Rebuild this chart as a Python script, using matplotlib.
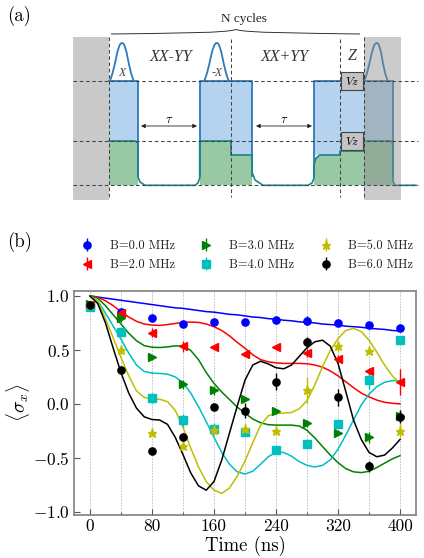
import numpy as np
import matplotlib
matplotlib.use("Agg")
import matplotlib.pyplot as plt
from matplotlib.path import Path
from matplotlib.patches import PathPatch, Rectangle

plt.rcParams['font.family'] = ['cmr10', 'DejaVu Serif']
plt.rcParams['mathtext.fontset'] = 'cm'
plt.rcParams['axes.unicode_minus'] = False

# measured points
t_points = [0, 40, 80, 120, 160, 200, 240, 280, 320, 360, 400]
b0_points = [0.92, 0.85, 0.80, 0.74, 0.755, 0.755, 0.78, 0.77, 0.75, 0.735, 0.70]
b2_points = [0.92, 0.84, 0.66, 0.535, 0.525, 0.465, 0.525, 0.47, 0.42, 0.30, 0.20]
b3_points = [0.93, 0.80, 0.43, 0.18, 0.125, 0.045, -0.07, -0.18, -0.27, -0.31, -0.11]
b4_points = [0.90, 0.665, 0.055, -0.15, -0.23, -0.26, -0.43, -0.37, -0.19, 0.22, 0.59]
b5_points = [0.92, 0.495, -0.27, -0.39, -0.24, -0.23, -0.255, 0.13, 0.535, 0.49, -0.25]
b6_points = [0.92, 0.31, -0.44, -0.31, -0.03, -0.065, 0.205, 0.57, 0.06, -0.58, -0.12]

b0_err = [0.02, 0.02, 0.01, 0.02, 0.02, 0.01, 0.02, 0.04, 0.02, 0.02, 0.02]
b2_err = [0.02, 0.02, 0.04, 0.05, 0.02, 0.02, 0.02, 0.04, 0.03, 0.03, 0.12]
b3_err = [0.02, 0.04, 0.02, 0.04, 0.04, 0.02, 0.02, 0.03, 0.02, 0.05, 0.04]
b4_err = [0.02, 0.02, 0.05, 0.06, 0.05, 0.02, 0.02, 0.02, 0.02, 0.08, 0.02]
b5_err = [0.02, 0.02, 0.02, 0.02, 0.04, 0.02, 0.02, 0.12, 0.05, 0.02, 0.07]
b6_err = [0.02, 0.02, 0.02, 0.03, 0.02, 0.07, 0.08, 0.05, 0.08, 0.05, 0.06]

# fitted curves, read every 10 ns
t_curve = list(range(0, 410, 10))
b0_curve = [1.0, 0.99, 0.98, 0.97, 0.96, 0.95, 0.94, 0.93, 0.92, 0.91, 0.90,
            0.89, 0.885, 0.875, 0.865, 0.855, 0.85, 0.84, 0.83, 0.825, 0.815,
            0.805, 0.80, 0.79, 0.785, 0.775, 0.77, 0.76, 0.755, 0.75, 0.74,
            0.735, 0.73, 0.72, 0.715, 0.71, 0.70, 0.695, 0.69, 0.68, 0.675]
b2_curve = [1.0, 0.99, 0.955, 0.91, 0.855, 0.805, 0.765, 0.74, 0.73, 0.727, 0.735,
            0.745, 0.755, 0.758, 0.755, 0.74, 0.715, 0.68, 0.63, 0.57, 0.515,
            0.455, 0.41, 0.39, 0.38, 0.375, 0.375, 0.375, 0.372, 0.36, 0.34,
            0.305, 0.26, 0.205, 0.15, 0.10, 0.065, 0.035, 0.015, 0.005, 0.0]
b3_curve = [1.0, 0.98, 0.91, 0.825, 0.74, 0.655, 0.585, 0.54, 0.525, 0.522, 0.528,
            0.538, 0.535, 0.495, 0.41, 0.29, 0.19, 0.11, 0.04, -0.03, -0.085,
            -0.14, -0.175, -0.193, -0.197, -0.197, -0.197, -0.205, -0.245, -0.315, -0.395,
            -0.475, -0.545, -0.60, -0.63, -0.637, -0.625, -0.59, -0.55, -0.51, -0.48]
b4_curve = [1.0, 0.955, 0.84, 0.72, 0.60, 0.47, 0.36, 0.30, 0.285, 0.282, 0.275,
            0.25, 0.195, 0.10, -0.025, -0.165, -0.31, -0.45, -0.56, -0.63, -0.65,
            -0.625, -0.56, -0.49, -0.45, -0.45, -0.485, -0.535, -0.57, -0.585, -0.57,
            -0.52, -0.42, -0.29, -0.15, -0.01, 0.09, 0.16, 0.20, 0.215, 0.215]
b5_curve = [1.0, 0.95, 0.79, 0.61, 0.43, 0.26, 0.12, 0.06, 0.045, 0.043, 0.02,
            -0.06, -0.215, -0.41, -0.585, -0.72, -0.80, -0.83, -0.78, -0.67, -0.53,
            -0.36, -0.20, -0.11, -0.09, -0.085, -0.08, -0.045, 0.03, 0.175, 0.345,
            0.495, 0.605, 0.68, 0.70, 0.67, 0.59, 0.48, 0.36, 0.26, 0.19]
b6_curve = [1.0, 0.93, 0.75, 0.515, 0.29, 0.10, -0.04, -0.12, -0.145, -0.15, -0.19,
            -0.31, -0.47, -0.64, -0.76, -0.80, -0.72, -0.52, -0.27, -0.02, 0.22,
            0.36, 0.395, 0.37, 0.335, 0.325, 0.36, 0.44, 0.52, 0.575, 0.59,
            0.535, 0.375, 0.115, -0.15, -0.33, -0.45, -0.49, -0.475, -0.41, -0.33]

labels = ["B=0.0 MHz", "B=2.0 MHz", "B=3.0 MHz", "B=4.0 MHz", "B=5.0 MHz", "B=6.0 MHz"]
colors = ["b", "r", "g", "c", "y", "k"]
markers = ["o", "<", ">", "s", "*", "o"]
all_points = [b0_points, b2_points, b3_points, b4_points, b5_points, b6_points]
all_errs = [b0_err, b2_err, b3_err, b4_err, b5_err, b6_err]
all_curves = [b0_curve, b2_curve, b3_curve, b4_curve, b5_curve, b6_curve]

W, H = 424, 558
fig = plt.figure(figsize=(W / 100, H / 100), dpi=100)

# panel (a): schematic in pixel coordinates
sch = fig.add_axes([0, 0, 1, 1])
sch.set_xlim(0, W)
sch.set_ylim(H, 0)
sch.axis("off")

BLUE = "#b5d3ee"
GREEN = "#99c8a5"
LINE_B = "#2b7bbd"
LINE_G = "#17858a"
DASH = "#444444"
top, mid, low = 81.3, 141, 185.3

sch.fill([109, 138, 138, 109], [top, top, mid, mid], color=BLUE, lw=0)
sch.fill([199.7, 252, 252, 231, 231, 199.7], [top, top, 155, 155, mid, mid], color=BLUE, lw=0)
sch.fill([314, 393, 393, 364, 364, 340, 340, 314], [top, top, mid, mid, 151, 151, 155, 155], color=BLUE, lw=0)

sch.fill([109, 136, 138, 138, 109], [mid, mid, 144, low, low], color=GREEN, lw=0)
sch.fill([199.7, 231, 231, 252, 252, 199.7], [mid, mid, 155, 155, low, low], color=GREEN, lw=0)
sch.fill([314, 316, 320, 340, 340, 364, 364, 392, 393, 393, 314],
         [165, 158, 155, 155, 151, 151, mid, mid, 144, low, low], color=GREEN, lw=0)

sch.plot([109, 138, 138], [top, top, 176], color=LINE_B, lw=1.3)
sch.plot([199.7, 199.7, 252, 252], [176, top, top, 176], color=LINE_B, lw=1.3)
sch.plot([314, 314, 393, 393], [176, top, top, 176], color=LINE_B, lw=1.3)

sch.plot([109, 135, 138, 138, 140, 145, 195, 198, 199.7, 199.7, 231, 231, 252, 252, 255, 263,
          308, 312, 314, 314, 316, 320, 340, 340, 364, 364, 391, 393, 393, 395, 416],
         [mid, mid, 143, 177, 182, low, low, 183, 178, mid, mid, 155, 155, 172, 180, low,
          low, 183, 178, 165, 158, 155, 155, 151, 151, mid, mid, 144, 181, low, low],
         color=LINE_G, lw=1.2)

# pulses
for x0, cx, x1 in [(109.6, 122, 134), (204, 216.7, 229), (364, 376.7, 388)]:
    verts = [(x0, top), (x0 + 6, 69), (cx - 5, 43), (cx, 43), (cx + 5, 43), (x1 - 6, 69), (x1, top)]
    codes = [Path.MOVETO] + [Path.CURVE4] * 6
    sch.add_patch(PathPatch(Path(verts, codes), fc="none", ec=LINE_B, lw=1.3))

# gray regions lie on top of the pulses
sch.add_patch(Rectangle((72.7, 36.7), 36.3, 163.3, fc="#c9c9c9", ec="none", zorder=1))
sch.add_patch(Rectangle((364, 36.7), 36.7, 163.3, fc="#8c8c8c", ec="none", alpha=0.45, zorder=3))

for y in [top, mid, low]:
    sch.plot([73, 418], [y, y], color=DASH, lw=0.75, ls=(0, (3.5, 2.5)), zorder=4)
for x, y0 in [(109, 37), (231, 39), (340.3, 39), (363.7, 37)]:
    sch.plot([x, x], [y0, 197], color=DASH, lw=0.75, ls=(0, (3.5, 2.5)), zorder=4)

for y0 in [71.7, 131.7]:
    sch.add_patch(Rectangle((341, y0), 21.7, 18, fc="#c4c4c4", ec="#444444", lw=0.8, zorder=5))
    sch.text(351.8, y0 + 9.2, "$Vz$", ha="center", va="center", fontsize=8.5, zorder=6)

for x0, x1 in [(141, 197), (256, 312)]:
    sch.annotate("", xy=(x0, 126), xytext=(x1, 126),
                 arrowprops=dict(arrowstyle="<|-|>", color="#222222", lw=0.6, mutation_scale=6, shrinkA=0, shrinkB=0))
    sch.text((x0 + x1) / 2, 120, r"$\tau$", ha="center", va="center", fontsize=9)

serif = ["Liberation Serif", "DejaVu Serif"]
sch.text(170.7, 57, "XX-YY", family=serif, style="italic", ha="center", va="center", fontsize=11.5, color="#333333")
sch.text(285, 57, "XX+YY", family=serif, style="italic", ha="center", va="center", fontsize=11.5, color="#333333")
sch.text(352, 56, "Z", family=serif, style="italic", ha="center", va="center", fontsize=11.5, color="#333333")
sch.text(122, 73.5, "X", family=serif, style="italic", ha="center", va="center", fontsize=8.5, color="#444444")
sch.text(217, 73.5, "-X", family=serif, style="italic", ha="center", va="center", fontsize=8.5, color="#444444")
sch.text(244, 19, "N cycles", family=serif, ha="center", va="center", fontsize=9.5, color="#222222")

brace = [(111, 34), (180, 33), (226, 33), (236, 29.5), (246, 33), (300, 33), (360, 34)]
sch.add_patch(PathPatch(Path(brace, [Path.MOVETO] + [Path.CURVE4] * 6), fc="none", ec="#333333", lw=0.7))

sch.text(7, 16, "(a)", ha="left", va="center", fontsize=13.5)
sch.text(7, 242, "(b)", ha="left", va="center", fontsize=13.5)

# panel (b)
ax = fig.add_axes([74 / W, 1 - 515 / H, 342 / W, 224 / H])
ax.patch.set_alpha(0)

for curve, color in zip(all_curves, colors):
    ax.plot(t_curve, curve, color=color, lw=1.1, zorder=2, solid_joinstyle="round")
for pts, err, color, marker, label in zip(all_points, all_errs, colors, markers, labels):
    ms = 6.8 if marker == "*" else 5.2
    ax.errorbar(t_points, pts, yerr=err, fmt=marker, color=color, ms=ms, elinewidth=1.0,
                capsize=0, label=label, zorder=3)

ax.set_xlim(-20.6, 420.6)
ax.set_ylim(-1.03, 1.046)
ax.set_xticks(t_points[::2])
ax.set_xticks(t_points[1::2], minor=True)
ax.set_yticks([-1.0, -0.5, 0.0, 0.5, 1.0])
ax.set_yticklabels(["$-1.0$", "$-0.5$", "$0.0$", "$0.5$", "$1.0$"], fontsize=12.5)
ax.set_xticklabels([str(v) for v in t_points[::2]], fontsize=12.5)
ax.set_xlabel("Time (ns)", fontsize=13.5, labelpad=1)
ax.set_ylabel(r"$\langle\sigma_x\rangle$", fontsize=14, labelpad=1)
ax.grid(True, which="both", axis="x", color="#bbbbbb", lw=0.6, ls=(0, (2, 1.5)))
ax.set_axisbelow(True)
ax.tick_params(which="major", direction="in", length=4, width=0.8, color="#555555", pad=3)
ax.tick_params(which="minor", direction="in", length=2.5, width=0.8, color="#555555")
for spine in ax.spines.values():
    spine.set_color("#808080")
    spine.set_linewidth(1.2)

ax.legend(ncol=3, frameon=False, loc="lower left", bbox_to_anchor=(0.009, 1.089), fontsize=9,
          handletextpad=1.0, columnspacing=1.75, labelspacing=0.55, numpoints=1,
          handlelength=1.6, borderpad=0, borderaxespad=0, labelcolor="#222222")

fig.savefig("out.png", dpi=100)
